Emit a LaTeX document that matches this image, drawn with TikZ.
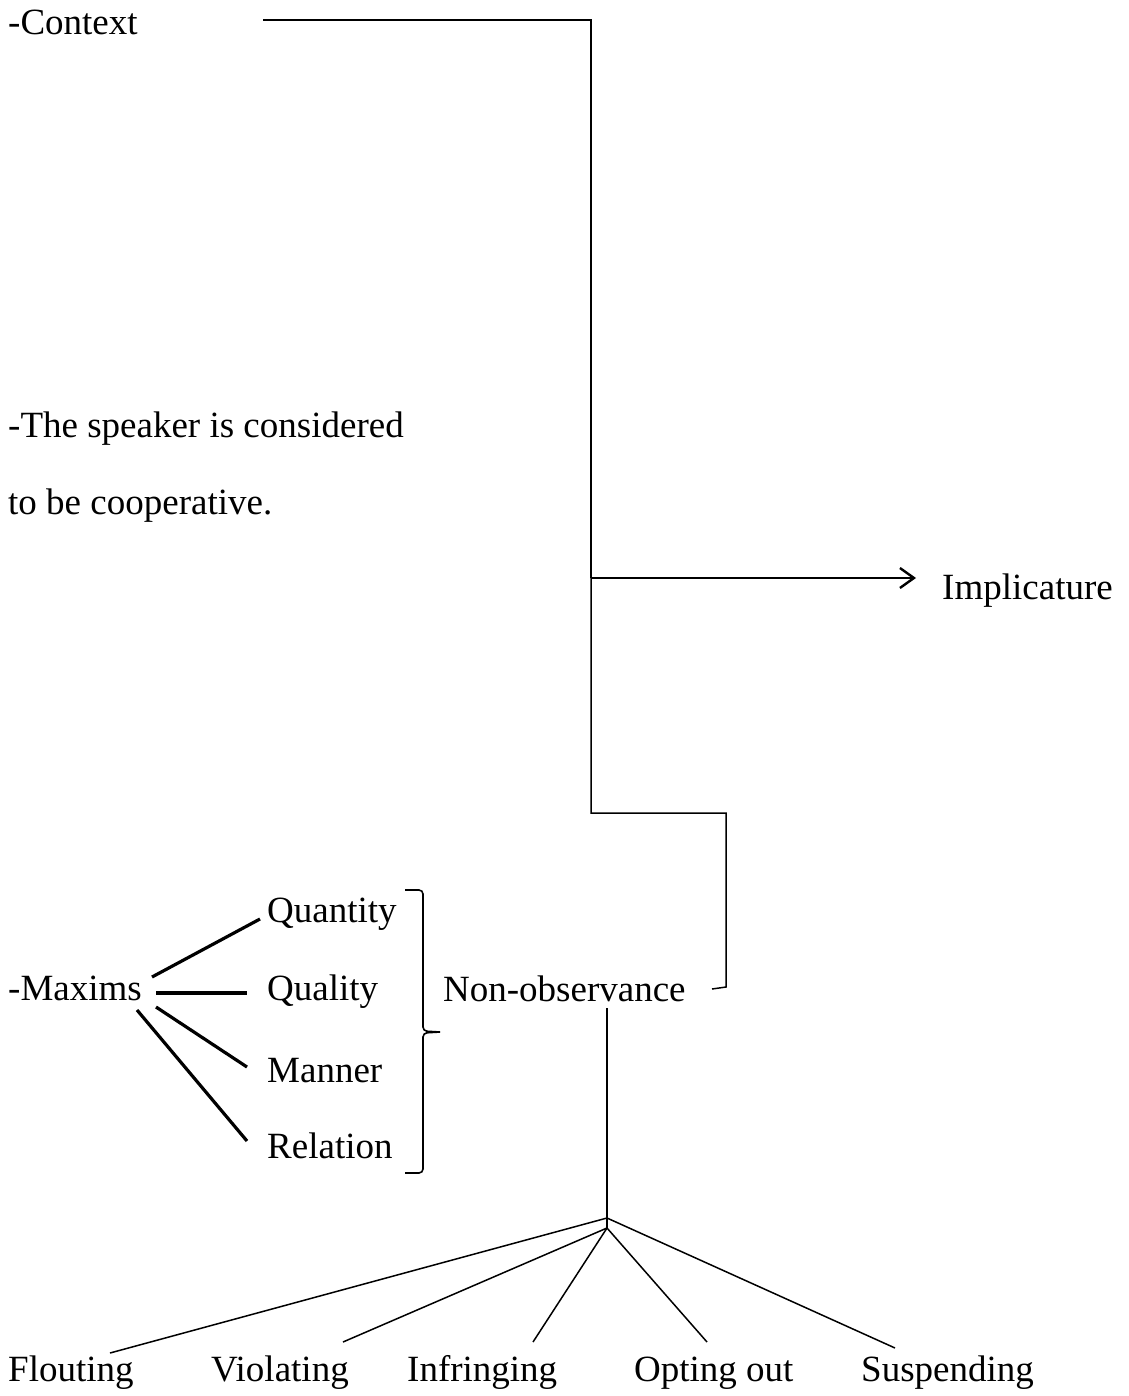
\documentclass[tikz,border=0pt]{standalone}
\usepackage{fontspec}
\setmainfont{Liberation Serif}
\usetikzlibrary{arrows.meta}

\begin{document}
\begin{tikzpicture}[x=1pt, y=-1pt,
		every node/.style={inner sep=0pt, anchor=base west, font=\fontsize{37}{44}\selectfont},
		heavy/.style={line width=2.4pt},
		maximline/.style={line width=3.2pt},
		thinline/.style={line width=1.5pt},
		bracket/.style={line width=1.6pt, rounded corners=4pt}]
		\useasboundingbox (0,0) rectangle (1128,1396);

		% texts
		\node (context) at (8,35) {-Context};
		\node (speaker) at (8,437) {-The speaker is considered};
		\node (coop) at (8,514) {to be cooperative.};
		\node (impl) at (942,599) {Implicature};
		\node (maxims) at (8,1000) {-Maxims};
		\node (quantity) at (267,922) {Quantity};
		\node (quality) at (267,1000) {Quality};
		\node (manner) at (267,1082) {Manner};
		\node (relation) at (267,1158) {Relation};
		\node (nonobs) at (443,1001) {Non-observance};

		% path to implicature
		\coordinate (ctxend) at (263,20);
		\coordinate (corner) at (591,20);
		\coordinate (hub) at (591,578);
		\coordinate (arrowtip) at (916,578);
		\draw[heavy] (ctxend) -- (corner) -- (hub);
		\draw[heavy, -{Straight Barb[length=14pt,width=20pt]}] (hub) -- (arrowtip);

		% step down to non-observance
		\coordinate (stepa) at (591,813);
		\coordinate (stepb) at (726,813);
		\coordinate (stepc) at (726,987);
		\coordinate (stepd) at (712,989);
		\draw[thinline] (hub) -- (stepa) -- (stepb) -- (stepc) -- (stepd);

		% maxims
		\coordinate (mqa) at (152,977);  \coordinate (mqb) at (260,919);
		\coordinate (mla) at (156,993);  \coordinate (mlb) at (247,993);
		\coordinate (mma) at (156,1007); \coordinate (mmb) at (247,1067);
		\coordinate (mra) at (137,1010); \coordinate (mrb) at (247,1141);
		\draw[maximline] (mqa) -- (mqb);
		\draw[maximline] (mla) -- (mlb);
		\draw[maximline] (mma) -- (mmb);
		\draw[maximline] (mra) -- (mrb);

		% brace
		\draw[bracket] (405,890) -- (423,890) -- (423,1031) -- (440,1032);
		\draw[bracket] (440,1032) -- (423,1033) -- (423,1173) -- (405,1173);

		% types of non-observance
		\coordinate (nostem) at (607,1008);
		\coordinate (forka) at (607,1218);
		\coordinate (forkb) at (607,1228);
		\draw[thinline] (nostem) -- (forkb);
		\foreach \lbl/\txt/\tx/\ex/\ey/\fk in {flout/Flouting/8/110/1353/forka,
				viol/Violating/211/343/1342/forkb, infr/Infringing/407/533/1342/forkb,
				opt/Opting out/634/707/1342/forkb, susp/Suspending/861/895/1348/forka} {
			\node (\lbl) at (\tx,1381) {\txt};
			\coordinate (\lbl end) at (\ex,\ey);
			\draw[thinline] (\fk) -- (\lbl end);
		}
	\end{tikzpicture}
\end{document}
